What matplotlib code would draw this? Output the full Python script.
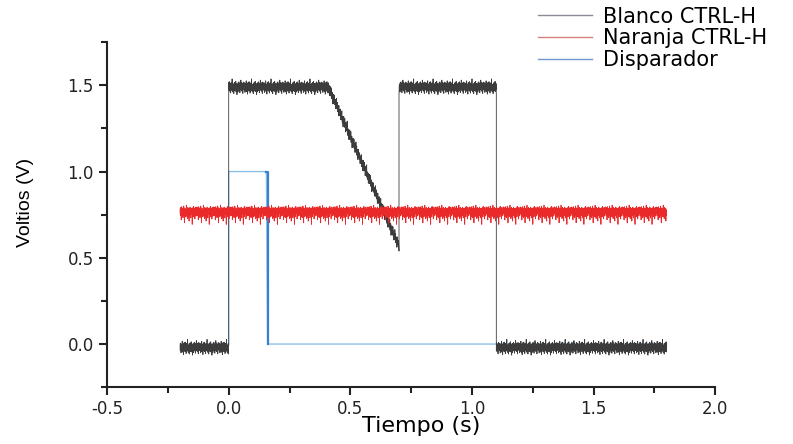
import numpy as np
import matplotlib.pyplot as plt
from matplotlib.lines import Line2D
from matplotlib.ticker import MultipleLocator

plt.rcParams['axes.unicode_minus'] = False

# piecewise shape of each trace: (t_start, t_end, v_start, v_end)
blanco_segments = [(-0.20, 0.00, -0.02, -0.02),
                   (0.00, 0.41, 1.49, 1.49),
                   (0.41, 0.70, 1.49, 0.57),
                   (0.70, 1.10, 1.49, 1.49),
                   (1.10, 1.80, -0.02, -0.02)]
naranja_segments = [(-0.20, 1.80, 0.765, 0.765)]
disparador_t = [-0.20, 0.000, 0.000, 0.155, 0.160, 1.80]
disparador_v = [0.00, 0.00, 1.00, 1.00, 0.00, 0.00]

# noise (V), repeated along each segment
blanco_noise = [0.012, -0.018, 0.025, -0.006, -0.031, 0.008, 0.019, -0.022, 0.004, 0.036,
                -0.014, -0.027, 0.015, 0.002, -0.041, 0.021, -0.009, 0.028, -0.017, 0.007,
                -0.024, 0.031, -0.003, -0.012, 0.018, -0.035, 0.011, 0.024, -0.019, 0.005,
                -0.008, 0.047, -0.021, 0.013, -0.028, 0.003, 0.016, -0.015, -0.038, 0.022,
                0.009, -0.005, 0.027, -0.023, 0.014, -0.011, 0.033, -0.026, 0.006, -0.016,
                0.020, -0.044, 0.010, 0.017, -0.002, -0.029, 0.025, -0.013, 0.001, 0.030,
                -0.020, 0.006, 0.015, -0.033, 0.022, -0.007, 0.002, 0.040, -0.018, -0.009,
                0.026, -0.024, 0.011, -0.002, 0.019, -0.037, 0.008, 0.029, -0.012, 0.004]
naranja_noise = [0.018, -0.012, 0.026, -0.021, 0.004, -0.045, 0.015, 0.031, -0.008, -0.025,
                 0.011, 0.022, -0.033, 0.006, -0.014, 0.035, -0.019, 0.002, -0.062, 0.024,
                 -0.006, 0.013, -0.028, 0.019, 0.008, -0.016, 0.040, -0.024, -0.003, 0.017,
                 -0.038, 0.010, 0.027, -0.011, 0.005, -0.030, 0.021, -0.052, 0.014, 0.003,
                 -0.020, 0.029, -0.007, 0.016, -0.034, 0.009, 0.023, -0.015, -0.001, 0.020,
                 -0.071, 0.012, 0.025, -0.018, 0.007, -0.027, 0.033, -0.010, 0.015, -0.005,
                 0.021, -0.040, 0.004, 0.028, -0.013, 0.010, -0.023, 0.018, -0.006, 0.030]

dt = 0.001


def build_trace(segments, noise):
    ts, vs = [], []
    k = 0
    for t0, t1, v0, v1 in segments:
        t = np.arange(t0, t1 + dt / 2, dt)
        v = np.linspace(v0, v1, len(t))
        idx = (np.arange(len(t)) + k) % len(noise)
        ts.append(t)
        vs.append(v + np.array(noise)[idx])
        k += 17
    return np.concatenate(ts), np.concatenate(vs)


tb, vb = build_trace(blanco_segments, blanco_noise)
tn, vn = build_trace(naranja_segments, naranja_noise)

fig = plt.figure(figsize=(7.93, 4.44), dpi=100)
ax = fig.add_axes([0.135, 0.128, 0.767, 0.777])

ax.plot(disparador_t, disparador_v, color='#8cbfe6', lw=1.0, zorder=1)
ax.plot([0.155, 0.160, 0.160], [1.0, 1.0, 0.0], color='#3a80d0', lw=1.6, zorder=1)
ax.plot(tb, vb, color='#3c3c3c', lw=0.6, zorder=2)
ax.plot(tn, vn, color='#ea2a2a', lw=0.6, zorder=3)

ax.set_xlim(-0.5, 2.0)
ax.set_ylim(-0.25, 1.75)
ax.xaxis.set_major_locator(MultipleLocator(0.5))
ax.xaxis.set_minor_locator(MultipleLocator(0.25))
ax.yaxis.set_major_locator(MultipleLocator(0.5))
ax.yaxis.set_minor_locator(MultipleLocator(0.25))
ax.xaxis.set_major_formatter('{x:.1f}')
ax.yaxis.set_major_formatter('{x:.1f}')

for s in ['top', 'right']:
    ax.spines[s].set_visible(False)
for s in ['left', 'bottom']:
    ax.spines[s].set_linewidth(1.5)
    ax.spines[s].set_color('#222222')

ax.tick_params(which='major', length=6, width=1.5, labelsize=12, colors='#222222',
               labelfontfamily='DejaVu Sans')
ax.tick_params(which='minor', length=4, width=1.5, colors='#222222')

ax.set_xlabel('Tiempo (s)', fontsize=16, family='DejaVu Sans')
ax.set_ylabel('Voltios (V)', fontsize=14, family='Liberation Sans')
ax.xaxis.set_label_coords(0.516, -0.085)
ax.yaxis.set_label_coords(-0.12, 0.536)

handles = [Line2D([], [], color='#8a8a96', lw=1.0),
           Line2D([], [], color='#d88080', lw=1.0),
           Line2D([], [], color='#7098d0', lw=1.0)]
labels = ['Blanco CTRL-H', 'Naranja CTRL-H', 'Disparador']
fig.legend(handles, labels, loc='upper left',
           bbox_to_anchor=(0.655, 1.027), frameon=False, handlelength=2.6,
           handletextpad=0.5, labelspacing=0.08,
           prop={'family': 'DejaVu Sans', 'size': 15})

fig.savefig('out.png', dpi=100)
